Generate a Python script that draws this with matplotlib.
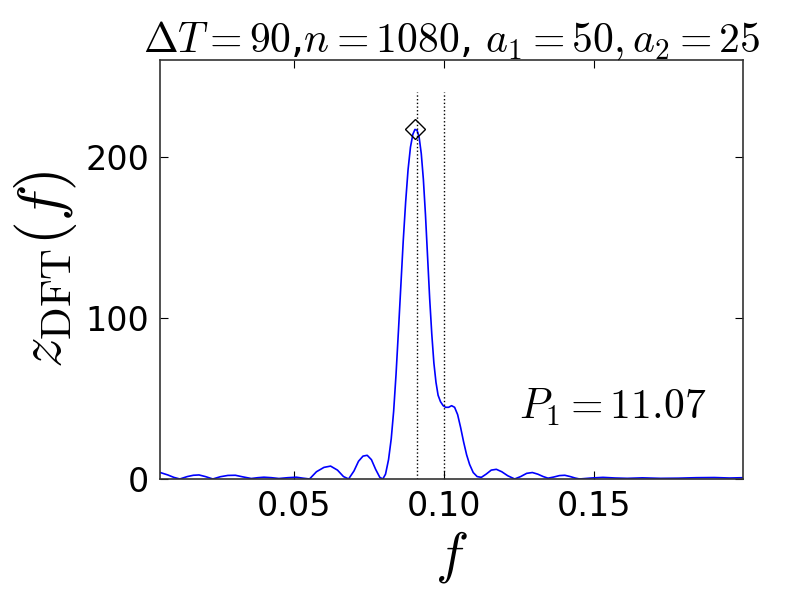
import matplotlib
matplotlib.use("Agg")
import matplotlib.pyplot as plt

plt.rcParams['mathtext.fontset'] = 'cm'

# spectrum
freq = [0.0055, 0.008, 0.010, 0.012, 0.0145, 0.0165, 0.0184, 0.0205, 0.023, 0.0255,
        0.028, 0.0305, 0.033, 0.0358, 0.038, 0.040, 0.0425, 0.045, 0.048, 0.0508,
        0.053, 0.0552, 0.0575, 0.060, 0.0622, 0.0645, 0.0665, 0.0682, 0.0700, 0.0715,
        0.0730, 0.0744, 0.0758, 0.0772, 0.0786, 0.0796, 0.0805, 0.0815, 0.0824, 0.0832,
        0.0840, 0.0848, 0.0856, 0.0864, 0.0872, 0.0880, 0.0888, 0.0896, 0.0903, 0.0910,
        0.0917, 0.0924, 0.0931, 0.0938, 0.0945, 0.0952, 0.0959, 0.0966, 0.0973, 0.0980,
        0.0988, 0.0997, 0.1005, 0.1015, 0.1025, 0.1035, 0.1045, 0.1055, 0.1065, 0.1075,
        0.1085, 0.1097, 0.1110, 0.1124, 0.1140, 0.1157, 0.1174, 0.1192, 0.1212, 0.1235,
        0.1255, 0.1275, 0.1294, 0.1312, 0.1330, 0.1346, 0.1365, 0.1384, 0.1402, 0.1420,
        0.1436, 0.1451, 0.149, 0.1529, 0.157, 0.161, 0.166, 0.172, 0.178, 0.184,
        0.190, 0.195, 0.1996]
zdft = [4.0, 2.5, 1.0, 0.0, 1.5, 2.3, 2.5, 1.5, 0.0, 1.4,
        2.2, 2.3, 1.3, 0.3, 0.8, 1.1, 0.8, 0.3, 0.8, 1.1,
        0.5, 0.0, 4.5, 7.2, 8.0, 5.5, 1.5, 0.0, 5.0, 11.0,
        14.2, 14.7, 12.0, 6.0, 1.0, 0.0, 3.0, 12.0, 25.0, 42.0,
        65.0, 92.0, 120.0, 148.0, 172.0, 192.0, 206.0, 214.0, 217.0, 216.5,
        212.0, 202.0, 186.0, 164.0, 138.0, 112.0, 90.0, 72.0, 60.0, 52.0,
        48.0, 45.5, 44.5, 44.5, 45.5, 44.5, 40.0, 32.0, 23.0, 15.0,
        9.0, 4.0, 1.5, 1.0, 3.0, 5.5, 6.0, 4.5, 2.0, 0.0,
        1.5, 3.5, 4.0, 3.0, 1.5, 0.5, 1.2, 2.1, 2.3, 1.5,
        0.6, 0.0, 0.6, 1.0, 0.6, 0.4, 0.7, 0.4, 0.5, 0.8,
        0.9, 0.6, 0.8]

f_peak = 1 / 11.07
z_peak = 217.0
true_freqs = [1 / 11, 1 / 10]

fig = plt.figure(figsize=(8, 6), dpi=100)
ax = fig.add_axes([0.2, 0.2017, 0.729, 0.698])
ax.plot(freq, zdft, color='b', lw=1.2)
ax.vlines(true_freqs, 0, 240, colors='k', linestyles=':', lw=1.0)
ax.plot([f_peak], [z_peak], marker='D', ms=10, mfc='none', mec='k', mew=1.0, ls='none')

ax.set_xlim(0.0054, 0.1996)
ax.set_ylim(0, 260)
ax.set_xticks([0.05, 0.10, 0.15])
ax.set_xticklabels(['0.05', '0.10', '0.15'])
ax.set_yticks([0, 100, 200])
ax.tick_params(direction='in', top=True, right=True, labelsize=24, length=6, pad=8)
for s in ax.spines.values():
    s.set_color('#333333')
    s.set_linewidth(1.2)

ax.set_title(r'$\Delta T = 90$,$n = 1080$, $a_1 = 50, a_2 = 25$', fontsize=30)
ax.set_xlabel(r'$f$', fontsize=40)
ax.set_ylabel(r'$z_{\rm DFT}(f)$', fontsize=44)
ax.text(0.125, 37, r'$P_1 = 11.07$', fontsize=30)

fig.savefig('out.png')
